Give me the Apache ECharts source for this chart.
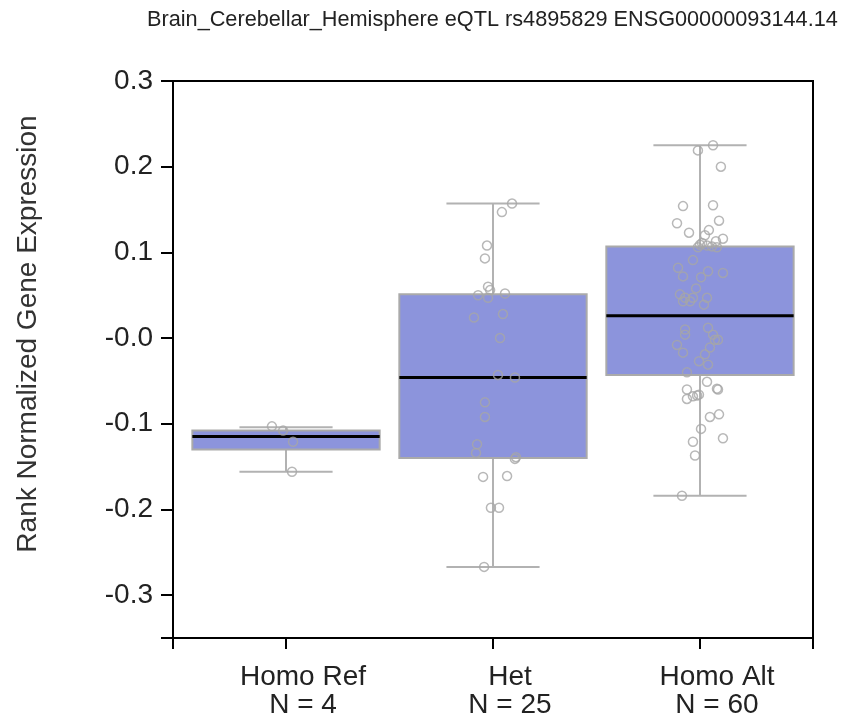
<!DOCTYPE html>
<html>
<head>
<meta charset="utf-8">
<script src="https://cdn.jsdelivr.net/npm/echarts@6/dist/echarts.min.js"></script>
<style>
html,body{margin:0;padding:0;background:#fff;}
#chart{width:845px;height:722px;}
</style>
</head>
<body>
<div id="chart"></div>
<script>
// ---------------- DATA ----------------
const titleText = "Brain_Cerebellar_Hemisphere eQTL rs4895829 ENSG00000093144.14";
const yAxisTitle = "Rank Normalized Gene Expression";
const categories = ["Homo Ref", "Het", "Homo Alt"];
const sampleSizes = [4, 25, 60];

// box statistics: [min, q1, median, q3, max]
const boxHomoRef = [-0.156, -0.130, -0.115, -0.108, -0.104];
const boxHet     = [-0.267, -0.140, -0.046, 0.051, 0.157];
const boxHomoAlt = [-0.184, -0.043, 0.026, 0.107, 0.225];

// individual sample values and horizontal jitter (in category units)
const ptsHomoRef = [-0.103, -0.108, -0.121, -0.156];
const jitHomoRef = [-0.068, -0.014, 0.034, 0.029];

const ptsHet = [0.157, 0.147, 0.108, 0.093, 0.060, 0.050, 0.047, 0.052, 0.024, 0.028,
                -0.000, -0.043, -0.046, -0.075, -0.092, -0.124, -0.134, -0.141, -0.139, -0.162,
                -0.161, -0.198, -0.198, -0.267, 0.056];
const jitHet = [0.092, 0.043, -0.029, -0.039, -0.024, -0.072, -0.024, 0.058, -0.092, 0.048,
                0.034, 0.024, 0.106, -0.039, -0.039, -0.077, -0.082, 0.106, 0.111, -0.048,
                0.068, -0.010, 0.029, -0.043, -0.014];

const ptsHomoAlt = [0.225, 0.219, 0.200, 0.154, 0.155, 0.134, 0.137, 0.123, 0.126, 0.120,
                    0.116, 0.113, 0.111, 0.108, 0.107, 0.109, 0.106, 0.091, 0.082, 0.072,
                    0.078, 0.076, 0.071, 0.058, 0.051, 0.047, 0.047, 0.047, 0.043, 0.039,
                    0.043, 0.010, 0.004, 0.012, 0.004, -0.002, -0.002, -0.008, -0.017, -0.011,
                    -0.019, -0.027, -0.031, -0.040, -0.051, -0.059, -0.060, -0.071, -0.068, -0.067,
                    -0.092, -0.089, -0.106, -0.121, -0.117, -0.137, -0.184, -0.060, -0.066, 0.106];
const jitHomoAlt = [0.063, -0.010, 0.101, -0.082, 0.063, -0.111, 0.092, -0.053, 0.043, 0.024,
                    0.111, 0.077, 0.010, 0.034, 0.058, 0.000, 0.082, -0.034, -0.106, -0.082,
                    0.039, 0.111, 0.005, -0.019, -0.097, -0.072, -0.034, 0.034, -0.082, 0.019,
                    -0.048, -0.072, -0.072, 0.039, 0.063, 0.072, 0.087, -0.111, -0.082, 0.048,
                    0.024, -0.005, 0.039, -0.063, 0.034, 0.082, -0.063, -0.063, -0.034, -0.014,
                    0.048, 0.092, 0.005, -0.034, 0.111, -0.024, -0.087, 0.087, -0.005, -0.010];

const yTickValues = [-0.35, -0.3, -0.2, -0.1, 0, 0.1, 0.2, 0.3];
const yLabelValues = [-0.3, -0.2, -0.1, 0, 0.1, 0.2, 0.3];
const yLabelTexts = ["-0.3", "-0.2", "-0.1", "-0.0", "0.1", "0.2", "0.3"];
const yMin = -0.35, yMax = 0.3;
const xMin = -0.546, xMax = 2.546;
const xTickValues = [xMin, 0, 1, 2, xMax];
const xLabelValues = [0, 1, 2];

// ---------------- BUILD ----------------
const boxes = [boxHomoRef, boxHet, boxHomoAlt];
const pts = [ptsHomoRef, ptsHet, ptsHomoAlt];
const jits = [jitHomoRef, jitHet, jitHomoAlt];

const boxData = boxes.map((b, i) => [i].concat(b));
const scatterData = [];
pts.forEach((arr, g) => arr.forEach((v, k) => scatterData.push([g + jits[g][k], v])));

const FONT = "'Liberation Sans', Arial, sans-serif";
const boxColor = "#8c94dc";
const grayLine = "#b2b2b2";

const chart = echarts.init(document.getElementById('chart'), null, {renderer: 'canvas'});

function renderBox(params, api) {
  const x = api.value(0);
  const vMin = api.value(1), q1 = api.value(2), med = api.value(3), q3 = api.value(4), vMax = api.value(5);
  const halfW = api.size([0.905, 0])[0] / 2;
  const capHalf = api.size([0.45, 0])[0] / 2;
  const pMax = api.coord([x, vMax]);
  const pQ3 = api.coord([x, q3]);
  const pMed = api.coord([x, med]);
  const pQ1 = api.coord([x, q1]);
  const pMin = api.coord([x, vMin]);
  const cx = pMed[0];
  const lineStyle = {stroke: grayLine, lineWidth: 2};
  return {
    type: 'group',
    children: [
      {type: 'line', shape: {x1: cx, y1: pMax[1], x2: cx, y2: pQ3[1]}, style: lineStyle},
      {type: 'line', shape: {x1: cx, y1: pQ1[1], x2: cx, y2: pMin[1]}, style: lineStyle},
      {type: 'line', shape: {x1: cx - capHalf, y1: pMax[1], x2: cx + capHalf, y2: pMax[1]}, style: lineStyle},
      {type: 'line', shape: {x1: cx - capHalf, y1: pMin[1], x2: cx + capHalf, y2: pMin[1]}, style: lineStyle},
      {type: 'rect', shape: {x: cx - halfW, y: pQ3[1], width: 2 * halfW, height: pQ1[1] - pQ3[1]},
        style: {fill: boxColor, stroke: "#aaaaaa", lineWidth: 2}},
      {type: 'line', shape: {x1: cx - halfW, y1: pMed[1], x2: cx + halfW, y2: pMed[1]},
        style: {stroke: "#000", lineWidth: 3}}
    ]
  };
}

function yLabelFormatter(v) {
  for (let i = 0; i < yLabelValues.length; i++) {
    if (Math.abs(yLabelValues[i] - v) < 1e-9) return yLabelTexts[i];
  }
  return '';
}
function xLabelFormatter(v) {
  const i = Math.round(v);
  return categories[i] + "\nN = " + sampleSizes[i];
}

const option = {
  backgroundColor: '#fff',
  animation: false,
  grid: {left: 173, right: 32, top: 81, bottom: 84, show: true, borderColor: '#000', borderWidth: 2},
  xAxis: {
    type: 'value', min: xMin, max: xMax,
    axisLine: {show: true, onZero: false, lineStyle: {color: '#000', width: 2}},
    axisTick: {show: true, customValues: xTickValues, length: 11, lineStyle: {color: '#000', width: 2}},
    axisLabel: {customValues: xLabelValues, formatter: xLabelFormatter, fontFamily: FONT, fontSize: 28,
      lineHeight: 28, color: '#222', margin: 25, padding: [0, 0, 0, 34]},
    splitLine: {show: false}
  },
  yAxis: {
    type: 'value', min: yMin, max: yMax,
    axisLine: {show: true, onZero: false, lineStyle: {color: '#000', width: 2}},
    axisTick: {show: true, customValues: yTickValues, length: 12, lineStyle: {color: '#000', width: 2}},
    axisLabel: {customValues: yLabelValues, formatter: yLabelFormatter, fontFamily: FONT, fontSize: 28,
      color: '#222', margin: 20},
    splitLine: {show: false}
  },
  graphic: [
    {type: 'text', left: 147, top: 9,
      style: {text: titleText, font: "21.7px " + FONT, fill: '#222'}},
    {type: 'text', x: 28, y: 334, rotation: Math.PI / 2,
      style: {text: yAxisTitle, font: "28px " + FONT, fill: '#333', align: 'center', verticalAlign: 'middle'}}
  ],
  series: [
    {type: 'custom', renderItem: renderBox, data: boxData, encode: {x: 0, y: [1, 2, 3, 4, 5]}, z: 2},
    {type: 'scatter', data: scatterData, symbol: 'circle', symbolSize: 9, z: 3,
      itemStyle: {color: 'rgba(0,0,0,0)', borderColor: '#a6a6a6', borderWidth: 1.5}}
  ]
};
chart.setOption(option);
</script>
</body>
</html>
